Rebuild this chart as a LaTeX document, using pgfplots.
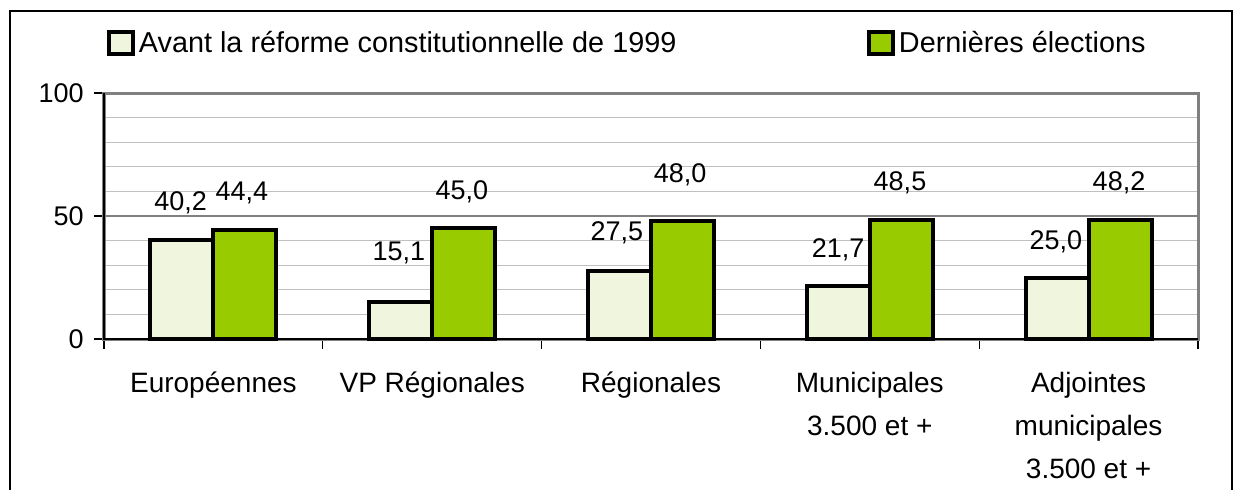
\documentclass[border=0pt]{standalone}
\usepackage{fontspec}
\setmainfont{Liberation Sans}
\usepackage{pgfplots}
\pgfplotsset{compat=1.18}
\definecolor{cream}{RGB}{240,245,222}
\definecolor{vert}{RGB}{153,204,0}
\definecolor{gridc}{RGB}{192,192,192}
\definecolor{framec}{RGB}{128,128,128}
\begin{document}
\begin{tikzpicture}
\path[use as bounding box] (0pt,0pt) rectangle (616.5pt,-244.5pt);
\draw[black, line width=0.6pt] (5pt,-246pt) -- (5pt,-5.5pt) -- (616pt,-5.5pt) -- (616pt,-246pt);
\begin{axis}[
  at={(52pt,-169.5pt)}, anchor=south west,
  scale only axis, width=547pt, height=123pt,
  xmin=0, xmax=5, ymin=0, ymax=100,
  /pgf/number format/assume math mode=true,
  axis line style={draw=framec, line width=1.5pt},
  tick pos=left,
  tick align=outside,
  tick style={black, line width=0.6pt},
  major tick length=5pt,
  minor tick length=0pt,
  ytick={0,50,100},
  minor ytick={10,20,30,40,60,70,80,90},
  ymajorgrids, yminorgrids,
  major grid style={draw=framec, line width=0.6pt},
  minor grid style={draw=gridc, line width=0.5pt},
  yticklabel style={font=\fontsize{13.5}{15}\selectfont, inner sep=0pt, xshift=-5pt},
  xtick={0,1,2,3,4,5},
  xticklabels={},
  extra x ticks={0.5,1.5,2.5,3.5,4.5},
  extra x tick labels={{\vphantom{É}Européennes},{\vphantom{É}VP Régionales},{\vphantom{É}Régionales},{\vphantom{É}Municipales\\[2.5pt]3.500 et +},{\vphantom{É}Adjointes\\[2.5pt]municipales\\[2.5pt]3.500 et +}},
  extra x tick style={major tick length=0pt, xticklabel style={font=\fontsize{14}{19}\selectfont, align=center, anchor=north, inner sep=0pt, yshift=-14.5pt}},
  legend image code/.code={\draw[#1] (0pt,-5.5pt) rectangle (12pt,5.5pt);},
  legend columns=2,
  legend style={draw=none, fill=none, inner sep=0pt, outer sep=0pt,
    at={(axis description cs:0,1)}, anchor=west, xshift=1.5pt, yshift=25pt,
    font=\fontsize{14.4}{17}\selectfont,
    /tikz/every even column/.append style={column sep=0pt}},
  clip=false,
]
\addlegendimage{fill=cream, draw=black, line width=2pt}
\addlegendentry{\makebox[362pt][l]{Avant la réforme constitutionnelle de 1999}}
\addlegendimage{fill=vert, draw=black, line width=2pt}
\addlegendentry{Dernières élections}

\addplot[ybar, bar width=31.5pt, bar shift=-15.75pt, fill=cream, draw=black, line width=2pt]
  coordinates {(0.5,40.2) (1.5,15.1) (2.5,27.5) (3.5,21.7) (4.5,25.0)};
\addplot[ybar, bar width=31.5pt, bar shift=15.75pt, fill=vert, draw=black, line width=2pt]
  coordinates {(0.5,44.4) (1.5,45.0) (2.5,48.0) (3.5,48.5) (4.5,48.2)};

\addplot[draw=none, nodes near coords, point meta=explicit symbolic,
  nodes near coords style={anchor=center, inner sep=0pt, font=\fontsize{13.5}{15}\selectfont}]
  coordinates {(0.35,55.3) [40,2] (0.63,59.3) [44,4] (1.348,35.0) [15,1] (1.636,59.8) [45,0]
               (2.344,43.1) [27,5] (2.633,66.7) [48,0] (3.355,36.2) [21,7] (3.638,63.4) [48,5]
               (4.35,39.4) [25,0] (4.639,63.4) [48,2]};

\draw[black, line width=0.6pt] (rel axis cs:0,1) -- (rel axis cs:0,0) -- (rel axis cs:1,0);
\end{axis}
\end{tikzpicture}
\end{document}
